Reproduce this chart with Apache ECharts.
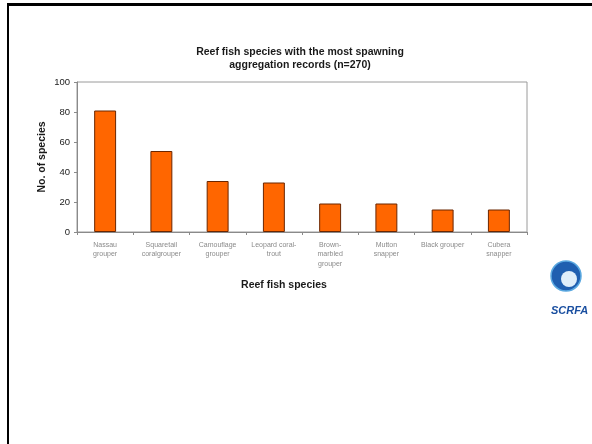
<!DOCTYPE html>
<html><head><meta charset="utf-8">
<script src="https://cdn.jsdelivr.net/npm/echarts@6/dist/echarts.min.js"></script>
<style>html,body{margin:0;padding:0;background:#fff}#c{width:592px;height:444px}</style>
</head><body><div id="c"></div>
<script>
const categories = ["Nassau\ngrouper","Squaretail\ncoralgrouper","Camouflage\ngrouper","Leopard coral-\ntrout","Brown-\nmarbled\ngrouper","Mutton\nsnapper","Black grouper","Cubera\nsnapper"];
const speciesCounts = [81, 54, 34, 33, 19, 19, 15, 15];
const yTicks = [0, 20, 40, 60, 80, 100];

const chart = echarts.init(document.getElementById('c'), null, {renderer:'canvas'});
chart.setOption({
  animation:false,
  backgroundColor:'#fff',
  title:{
    text:'Reef fish species with the most spawning\naggregation records (n=270)',
    left:300, top:46, textAlign:'center', padding:0,
    textStyle:{fontFamily:'Liberation Sans, Arial, sans-serif',fontWeight:'bold',fontSize:10.5,lineHeight:13,color:'#1a1a1a',align:'center'}
  },
  grid:{left:77, right:65, top:82, height:150, show:true, borderColor:'#9a9a9a', borderWidth:1},
  xAxis:{
    type:'category', data:categories,
    name:'Reef fish species', nameLocation:'middle', nameGap:48,
    nameTextStyle:{fontFamily:'Liberation Sans, Arial, sans-serif',fontWeight:'bold',fontSize:10.5,color:'#1a1a1a',padding:[0,36,0,0]},
    axisLine:{lineStyle:{color:'#8a8a8a'}},
    axisTick:{show:true,alignWithLabel:false,length:3,lineStyle:{color:'#8a8a8a'}},
    axisLabel:{interval:0,fontFamily:'Liberation Sans, Arial, sans-serif',fontSize:7,lineHeight:9.5,color:'#8a8a8a',margin:8}
  },
  yAxis:{
    type:'value', min:yTicks[0], max:yTicks[yTicks.length-1], interval:20,
    name:'No. of species', nameLocation:'middle', nameGap:29, nameRotate:90, nameMoveOverlap:false,
    nameTextStyle:{fontFamily:'Liberation Sans, Arial, sans-serif',fontWeight:'bold',fontSize:10.5,color:'#1a1a1a'},
    axisLine:{show:true,lineStyle:{color:'#8a8a8a'}},
    axisTick:{show:true,length:3,lineStyle:{color:'#8a8a8a'}},
    splitLine:{show:false},
    axisLabel:{fontFamily:'Liberation Sans, Arial, sans-serif',fontSize:9.5,color:'#222',margin:7}
  },
  series:[{
    type:'bar', data:speciesCounts, barWidth:'39%',
    itemStyle:{color:'#ff6600',borderColor:'#6b2600',borderWidth:1}
  }],
  graphic:[
    {type:'rect',shape:{x:7,y:3,width:2,height:441},style:{fill:'#000'},silent:true},
    {type:'rect',shape:{x:7,y:3,width:585,height:3},style:{fill:'#000'},silent:true},
    {type:'circle',shape:{cx:566,cy:276,r:15},style:{fill:'#1f5fb0'},silent:true},
    {type:'circle',shape:{cx:569,cy:279,r:8},style:{fill:'#dfeefa'},silent:true},
    {type:'circle',shape:{cx:566,cy:276,r:15},style:{fill:'none',stroke:'#5aa8e0',lineWidth:1.5},silent:true},
    {type:'text',left:551,top:305,style:{text:'SCRFA',fill:'#1a4fa0',font:'italic bold 11px Liberation Sans, Arial, sans-serif'},silent:true}
  ]
});
</script></body></html>
